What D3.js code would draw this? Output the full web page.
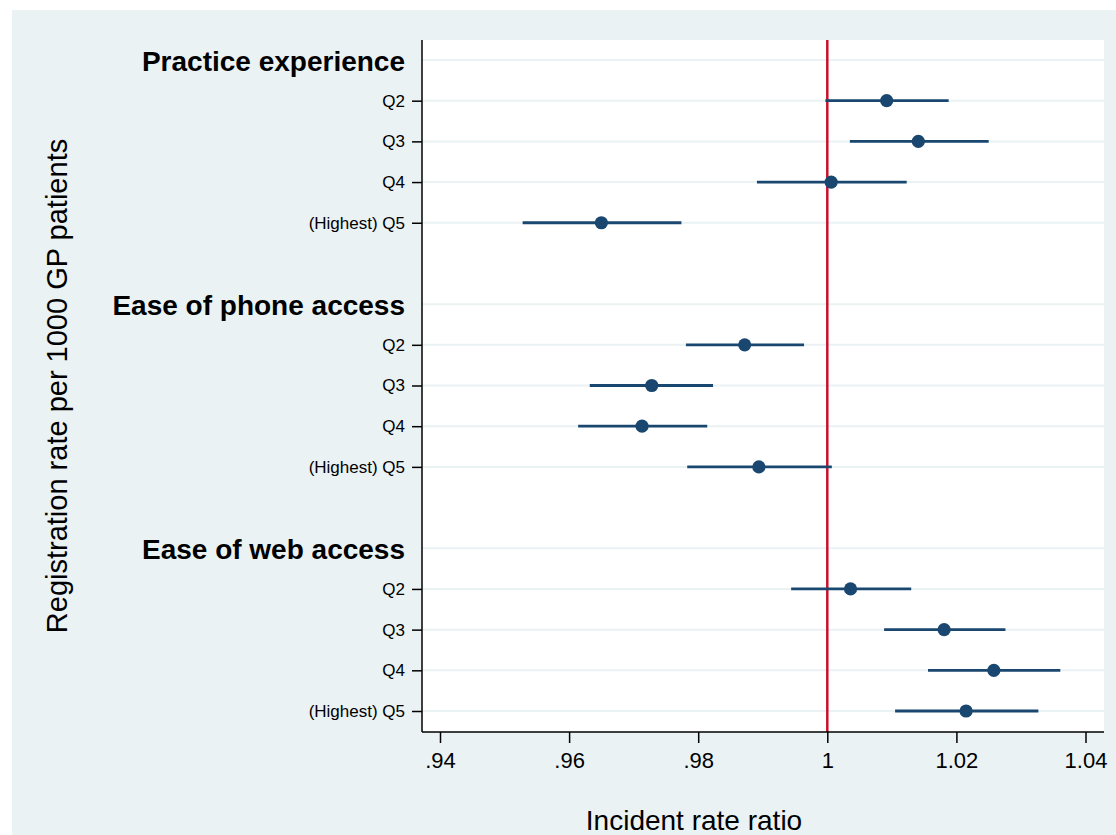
<!DOCTYPE html>
<html>
<head>
<meta charset="utf-8">
<script src="https://cdn.jsdelivr.net/npm/d3@7"></script>
<style>
  html, body { margin: 0; padding: 0; background: #ffffff; }
  svg { display: block; }
  text { font-family: "Liberation Sans", Arial, Helvetica, sans-serif; fill: #000; }
</style>
</head>
<body>
<svg id="chart" width="1116" height="835"></svg>
<script>
// Group headings and quintile labels (Q1 is the reference level)
const groups = ["Practice experience", "Ease of phone access", "Ease of web access"];
const levels = ["Q2", "Q3", "Q4", "(Highest) Q5"];

// Incident rate ratios with 95% confidence limits, one array per group
const practiceIRR = [1.0092, 1.0141, 1.0006, 0.9650];
const practiceLo  = [0.9997, 1.0035, 0.9891, 0.9528];
const practiceHi  = [1.0188, 1.0250, 1.0123, 0.9774];

const phoneIRR = [0.9872, 0.9728, 0.9713, 0.9894];
const phoneLo  = [0.9781, 0.9632, 0.9614, 0.9783];
const phoneHi  = [0.9964, 0.9823, 0.9814, 1.0007];

const webIRR = [1.0036, 1.0181, 1.0258, 1.0215];
const webLo  = [0.9944, 1.0088, 1.0156, 1.0105];
const webHi  = [1.0130, 1.0276, 1.0361, 1.0327];

// x-axis ticks
const xTicks = [0.94, 0.96, 0.98, 1, 1.02, 1.04];
const xTickLabels = [".94", ".96", ".98", "1", "1.02", "1.04"];

const referenceValue = 1;
const xTitle = "Incident rate ratio";
const yTitle = "Registration rate per 1000 GP patients";

// ---- layout ----
const W = 1116, H = 835;
const plot = { left: 422, right: 1104, top: 40, bottom: 732 };
const navy = "#1a476f";
const gridColor = "#eaf2f3";

const series = [
  { irr: practiceIRR, lo: practiceLo, hi: practiceHi },
  { irr: phoneIRR, lo: phoneLo, hi: phoneHi },
  { irr: webIRR, lo: webLo, hi: webHi }
];

// Row list: heading row, four level rows, then a blank spacer between groups
const rows = [];
groups.forEach((g, gi) => {
  rows.push({ key: "h" + gi, type: "header", label: g });
  levels.forEach((lv, li) => {
    rows.push({
      key: "r" + gi + "_" + li, type: "level", label: lv,
      irr: series[gi].irr[li], lo: series[gi].lo[li], hi: series[gi].hi[li]
    });
  });
  if (gi < groups.length - 1) rows.push({ key: "gap" + gi, type: "gap" });
});

const x = d3.scaleLinear().domain([0.94, 1.04]).range([440, 1085.5]);
const y = d3.scalePoint().domain(rows.map(r => r.key)).range([60, 711]);

const svg = d3.select("#chart");

// Graph region background and white plot region
svg.append("rect").attr("x", 12).attr("y", 10).attr("width", W - 12).attr("height", H - 10)
  .attr("fill", gridColor);
svg.append("rect").attr("x", plot.left).attr("y", plot.top)
  .attr("width", plot.right - plot.left).attr("height", plot.bottom - plot.top)
  .attr("fill", "#ffffff");

// Horizontal grid lines at heading and level rows
svg.append("g").selectAll("line")
  .data(rows.filter(r => r.type !== "gap"))
  .join("line")
  .attr("x1", plot.left).attr("x2", plot.right)
  .attr("y1", d => y(d.key)).attr("y2", d => y(d.key))
  .attr("stroke", gridColor).attr("stroke-width", 2);

// Reference line at IRR = 1
svg.append("line")
  .attr("x1", x(referenceValue)).attr("x2", x(referenceValue))
  .attr("y1", plot.top).attr("y2", plot.bottom)
  .attr("stroke", "#c8102e").attr("stroke-width", 2.5);

const levelRows = rows.filter(r => r.type === "level");

// Confidence intervals
svg.append("g").selectAll("line")
  .data(levelRows)
  .join("line")
  .attr("x1", d => x(d.lo)).attr("x2", d => x(d.hi))
  .attr("y1", d => y(d.key)).attr("y2", d => y(d.key))
  .attr("stroke", navy).attr("stroke-width", 2.8);

// Point estimates
svg.append("g").selectAll("circle")
  .data(levelRows)
  .join("circle")
  .attr("cx", d => x(d.irr)).attr("cy", d => y(d.key))
  .attr("r", 6.6).attr("fill", navy);

// Y axis (level labels)
const yAxis = d3.axisLeft(y)
  .tickValues(levelRows.map(r => r.key))
  .tickFormat(k => rows.find(r => r.key === k).label)
  .tickSize(10).tickPadding(7);
const gy = svg.append("g").attr("transform", `translate(${plot.left},0)`).call(yAxis);
gy.select(".domain").remove();
gy.selectAll(".tick line").attr("stroke", "#000").attr("stroke-width", 1.5);
gy.selectAll(".tick text").attr("font-size", 17).attr("font-family", null);

// Group headings
svg.append("g").selectAll("text")
  .data(rows.filter(r => r.type === "header"))
  .join("text")
  .attr("x", 405).attr("y", d => y(d.key) + 11)
  .attr("text-anchor", "end")
  .attr("font-size", 28).attr("font-weight", "bold")
  .text(d => d.label);

// X axis
const xAxis = d3.axisBottom(x)
  .tickValues(xTicks)
  .tickFormat((d, i) => xTickLabels[i])
  .tickSize(11).tickPadding(9);
const gx = svg.append("g").attr("transform", `translate(0,${plot.bottom})`).call(xAxis);
gx.select(".domain").remove();
gx.selectAll(".tick line").attr("stroke", "#000").attr("stroke-width", 1.5);
gx.selectAll(".tick text").attr("font-size", 22).attr("font-family", null);

// Axis lines
svg.append("line").attr("x1", plot.left).attr("x2", plot.left)
  .attr("y1", plot.top).attr("y2", plot.bottom)
  .attr("stroke", "#000").attr("stroke-width", 1.5);
svg.append("line").attr("x1", plot.left).attr("x2", plot.right)
  .attr("y1", plot.bottom).attr("y2", plot.bottom)
  .attr("stroke", "#000").attr("stroke-width", 1.5);

// Axis titles
svg.append("text").attr("x", 694).attr("y", 830)
  .attr("text-anchor", "middle").attr("font-size", 28).text(xTitle);
svg.append("text")
  .attr("transform", "translate(67,386) rotate(-90)")
  .attr("text-anchor", "middle").attr("font-size", 29).text(yTitle);
</script>
</body>
</html>
